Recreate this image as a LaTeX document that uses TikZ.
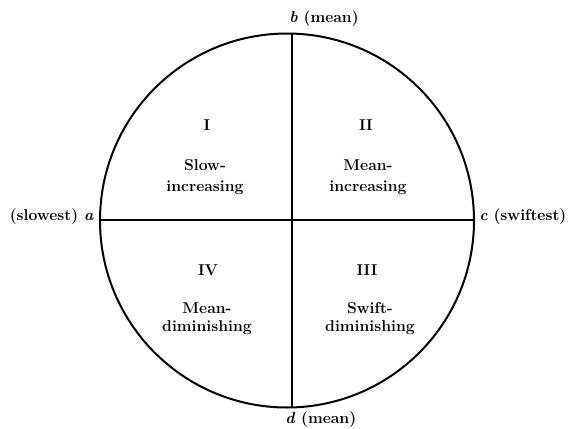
\documentclass[tikz,border=0pt]{standalone}
\begin{document}
\begin{tikzpicture}[x=0.75pt,y=-0.75pt,
  lbl/.style={font=\fontsize{11.8}{14}\selectfont\bfseries, inner sep=0pt},
  num/.style={font=\fontsize{11.8}{14}\selectfont\bfseries, inner sep=0pt}]
\useasboundingbox (0,0) rectangle (569,429);
\coordinate (O) at (287,220.5);
\draw[line width=1.5pt] (O) circle [radius=187];
\coordinate (a) at (100,220);
\coordinate (c) at (474,220);
\coordinate (b) at (292,34);
\coordinate (d) at (292,407);
\draw[line width=1.4pt] (a) -- (c);
\draw[line width=2.2pt] (b) -- (d);
% outer labels
\node[lbl, anchor=east] (la) at (94,217) {(slowest) \textit{a}};
\node[lbl, anchor=west] (lc) at (479,217) {\textit{c} (swiftest)};
\node[lbl, anchor=west] (lb) at (289,19) {\textit{b} (mean)};
\node[lbl, anchor=west] (ld) at (285,420) {\textit{d} (mean)};
% quadrant I
\node[num] (q1) at (207,125) {I};
\node[lbl] (q1a) at (205,165) {Slow-};
\node[lbl] (q1b) at (205,188) {increasing};
% quadrant II
\node[num] (q2) at (366,125) {II};
\node[lbl] (q2a) at (368,165) {Mean-};
\node[lbl] (q2b) at (368,188) {increasing};
% quadrant IV
\node[num] (q4) at (208,270) {IV};
\node[lbl] (q4a) at (207,308) {Mean-};
\node[lbl] (q4b) at (207,328) {diminishing};
% quadrant III
\node[num] (q3) at (367,270) {III};
\node[lbl] (q3a) at (370,308) {Swift-};
\node[lbl] (q3b) at (370,328) {diminishing};
\end{tikzpicture}
\end{document}
